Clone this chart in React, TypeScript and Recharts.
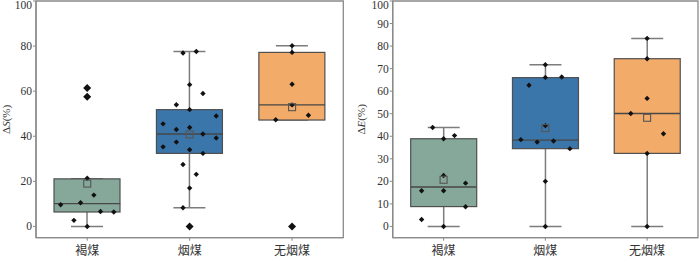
import React from 'react';
import { ComposedChart, Bar, Scatter, XAxis, YAxis, Label, ReferenceArea } from 'recharts';

const categories = ['褐煤', '烟煤', '无烟煤'];
const boxColors = ['#86A89B', '#3B76AB', '#F3AB69'];

// ΔS (%) panel
const sQ1 = [6.4, 32.4, 47.2];
const sQ3 = [21.1, 51.8, 77.2];
const sMedian = [10.1, 41.0, 53.9];
const sMean = [19.0, 40.8, 52.9];
const sWhiskerLow = [0, 8.3, 47.2];
const sWhiskerHigh = [21.1, 77.6, 80.2];
const sPointValues = [
  [21.4, 13.9, 10.5, 9.6, 6.6, 6.4, 2.7, 0],
  [76.9, 77.6, 62.9, 59.0, 54.0, 51.8, 49.0, 45.5, 43.0, 43.9, 41.0, 39.2, 35.3, 37.4, 34.0, 32.4, 27.5, 23.1, 17.0, 8.3],
  [80.2, 77.2, 63.1, 53.9, 49.3, 47.3],
];
// horizontal jitter, as a share of the category band
const sPointJitter = [
  [0, 0.065, -0.065, -0.26, 0.13, 0.26, -0.13, 0],
  [-0.065, 0.065, 0, 0.13, -0.13, 0, 0.26, -0.26, -0.13, 0, 0.13, 0.26, -0.26, -0.13, 0, 0.13, -0.065, 0.065, 0, -0.065],
  [0, 0, 0, 0, 0.16, -0.16],
];
const sOutliers = [[61.4, 57.5], [0], [0]];
const sTicks = [0, 20, 40, 60, 80, 100];

// ΔE (%) panel
const eQ1 = [8.8, 34.5, 32.4];
const eQ3 = [38.9, 66.0, 74.4];
const eMedian = [17.5, 38.3, 50.1];
const eMean = [20.7, 43.6, 48.2];
const eWhiskerLow = [0, 0, 0];
const eWhiskerHigh = [43.9, 71.7, 83.4];
const ePointValues = [
  [43.9, 40.3, 38.9, 22.6, 19.2, 15.8, 15.8, 8.7, 3.1, 0],
  [71.7, 66.1, 66.3, 62.6, 44.7, 38.5, 37.4, 37.9, 34.5, 20.0, 0],
  [83.4, 74.4, 56.8, 50.1, 41.1, 32.4, 0],
];
const ePointJitter = [
  [-0.107, 0.107, 0, 0, 0.215, -0.215, 0, 0.215, -0.215, 0],
  [0, 0, 0.16, -0.16, 0, -0.24, -0.08, 0.08, 0.24, 0, 0],
  [0, 0, 0, -0.16, 0.16, 0, 0],
];
const eOutliers = [[], [], []];
const eTicks = [0, 10, 20, 30, 40, 50, 60, 70, 80, 90, 100];

const serif = '"Liberation Serif", "Times New Roman", serif';
const cjk = '"Noto Sans CJK SC", "Liberation Serif", serif';
const frameColor = '#8a8a8a';
const BAND = 102.2;

const WhiskerShape = (props: any) => {
  const { x, y, width, height } = props;
  const top = Math.min(y, y + height);
  const bottom = Math.max(y, y + height);
  const cx = x + width / 2;
  return (
    <g stroke="#7d7d7d" strokeWidth={1.5}>
      <line x1={cx} x2={cx} y1={top} y2={bottom} />
      <line x1={cx - 16} x2={cx + 16} y1={top} y2={top} />
      <line x1={cx - 16} x2={cx + 16} y1={bottom} y2={bottom} />
    </g>
  );
};

const BoxShape = (props: any) => {
  const { x, y, width, height, payload } = props;
  const top = Math.min(y, y + height);
  const h = Math.abs(height);
  const i = categories.indexOf(payload.name);
  return <rect x={x} y={top} width={width} height={h} fill={boxColors[i]} stroke="#4f4f4f" strokeWidth={1.2} />;
};

const MedianShape = (props: any) => {
  const { cx, cy } = props;
  return <line x1={cx - 33} x2={cx + 33} y1={cy} y2={cy} stroke="#474747" strokeWidth={1.3} />;
};

const MeanShape = (props: any) => {
  const { cx, cy } = props;
  return <rect x={cx - 3.5} y={cy - 3.5} width={7} height={7} fill="none" stroke="#555" strokeWidth={1.1} />;
};

const PointShape = (props: any) => {
  const { cx, cy, payload } = props;
  const px = cx + payload.jitter * BAND;
  const r = 2.7;
  return <path d={`M${px},${cy - r}L${px + r},${cy}L${px},${cy + r}L${px - r},${cy}Z`} fill="#111" />;
};

const OutlierShape = (props: any) => {
  const { cx, cy } = props;
  const r = 4;
  return <path d={`M${cx},${cy - r}L${cx + r},${cy}L${cx},${cy + r}L${cx - r},${cy}Z`} fill="#111" />;
};

const YTick = (props: any) => {
  const { x, y, payload } = props;
  return (
    <text x={x} y={Math.max(y, 4.5)} textAnchor="end" dominantBaseline="central" fontSize={11.5} fontFamily={serif} fill="#333">
      {payload.value}
    </text>
  );
};

const axisTitle = (letter: string, dx: number) => (props: any) => {
  const { viewBox } = props;
  const cx = viewBox.x + dx;
  const cy = viewBox.y + viewBox.height / 2;
  return (
    <text x={cx} y={cy} transform={`rotate(-90, ${cx}, ${cy})`} textAnchor="middle" dominantBaseline="central" fontSize={11} fontFamily={serif} fill="#333">
      Δ<tspan fontStyle="italic">{letter}</tspan>(%)
    </text>
  );
};

type PanelProps = {
  q1: number[]; q3: number[]; median: number[]; mean: number[];
  wLow: number[]; wHigh: number[];
  points: number[][]; jitter: number[][]; outliers: number[][];
  ticks: number[]; letter: string; axisWidth: number; rightMargin: number; titleX: number;
};

const Panel = ({ q1, q3, median, mean, wLow, wHigh, points, jitter, outliers, ticks, letter, axisWidth, rightMargin, titleX }: PanelProps) => {
  const rows = categories.map((name, i) => ({
    name,
    box: [q1[i], q3[i]],
    whisker: [wLow[i], wHigh[i]],
    median: median[i],
    mean: mean[i],
  }));
  const pointRows = categories.flatMap((name, i) => points[i].map((v, k) => ({ name, v, jitter: jitter[i][k] })));
  const outlierRows = categories.flatMap((name, i) => outliers[i].map((v) => ({ name, v })));

  return (
    <ComposedChart width={350} height={257} data={rows} barGap={-66} margin={{ top: 1, right: rightMargin, bottom: 0, left: 0 }}>
      <XAxis dataKey="name" type="category" allowDuplicatedCategory={false} height={19.3}
        axisLine={{ stroke: frameColor, strokeWidth: 1.3 }} tickLine={{ stroke: frameColor }} tickSize={3} tickMargin={6}
        tick={{ fontSize: 12, fontFamily: cjk, fill: '#333' }} />
      <YAxis type="number" domain={[-5, 100]} ticks={ticks} interval={0} width={axisWidth} allowDataOverflow
        axisLine={{ stroke: frameColor, strokeWidth: 1.3 }} tickLine={{ stroke: frameColor }} tickSize={3} tickMargin={1}
        tick={<YTick />}>
        <Label content={axisTitle(letter, titleX)} />
      </YAxis>
      <ReferenceArea y1={-5} y2={100} fill="none" fillOpacity={0} stroke={frameColor} strokeWidth={1.3} ifOverflow="visible" />
      <Bar dataKey="whisker" barSize={66} shape={WhiskerShape} isAnimationActive={false} />
      <Bar dataKey="box" barSize={66} shape={BoxShape} isAnimationActive={false} />
      <Scatter dataKey="median" shape={MedianShape} isAnimationActive={false} />
      <Scatter data={pointRows} dataKey="v" shape={PointShape} isAnimationActive={false} />
      <Scatter data={outlierRows} dataKey="v" shape={OutlierShape} isAnimationActive={false} />
      <Scatter dataKey="mean" shape={MeanShape} isAnimationActive={false} />
    </ComposedChart>
  );
};

export default function App() {
  return (
    <div style={{ position: 'absolute', left: 0, top: 0, width: 700, height: 257, display: 'flex', background: '#fff' }}>
      <Panel q1={sQ1} q3={sQ3} median={sMedian} mean={sMean} wLow={sWhiskerLow} wHigh={sWhiskerHigh}
        points={sPointValues} jitter={sPointJitter} outliers={sOutliers} ticks={sTicks} letter="S"
        axisWidth={36} rightMargin={6.7} titleX={6} />
      <Panel q1={eQ1} q3={eQ3} median={eMedian} mean={eMean} wLow={eWhiskerLow} wHigh={eWhiskerHigh}
        points={ePointValues} jitter={ePointJitter} outliers={eOutliers} ticks={eTicks} letter="E"
        axisWidth={42.7} rightMargin={2} titleX={11} />
    </div>
  );
}
